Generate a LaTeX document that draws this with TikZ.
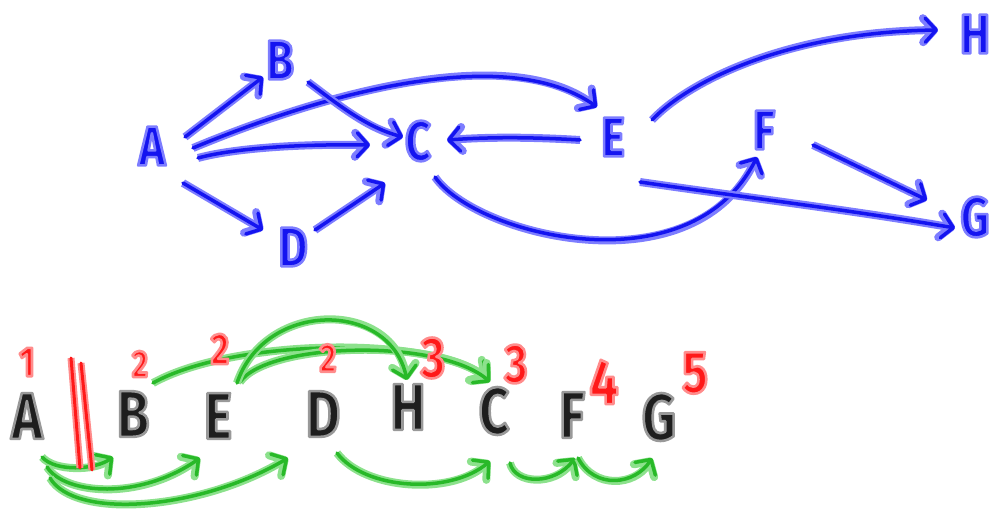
\documentclass[tikz,border=0pt]{standalone}
\usepackage{fontspec}
\setmainfont{Fira Sans}
\newfontfamily\hand{Fira Sans}[FakeStretch=0.8]
\newcommand{\halo}[2]{\special{pdf:literal direct 1 j 1 J 2.6 w #1 RG 2 Tr}#2\special{pdf:literal direct 0 Tr}}
\usetikzlibrary{arrows.meta,calc}
\definecolor{bcore}{RGB}{20,20,240}
\definecolor{bhalo}{RGB}{125,125,255}
\definecolor{gcore}{RGB}{40,185,40}
\definecolor{ghalo}{RGB}{140,225,140}
\definecolor{rcore}{RGB}{255,25,25}
\definecolor{rhalo}{RGB}{255,140,140}
\definecolor{kcore}{RGB}{30,30,30}
\tikzset{
  barb/.tip={Straight Barb[length=11pt,width=24pt,round]},
  bedge/.style={draw=bcore, line width=3.5pt, line cap=round, line join=round, -barb,
    preaction={draw=bhalo, line width=8pt}},
  gedge/.style={draw=gcore, line width=3.5pt, line cap=round, line join=round, -barb,
    preaction={draw=ghalo, line width=8pt}},
  redline/.style={draw=rcore, line width=3pt, line cap=round,
    preaction={draw=rhalo, line width=7pt}},
  topl/.style={font=\hand\bfseries\fontsize{56}{56}\selectfont, inner sep=0pt, text=bcore},
  botl/.style={font=\hand\bfseries\fontsize{66}{66}\selectfont, inner sep=0pt, text=kcore},
  num/.style={font=\hand\bfseries\fontsize{#1}{#1}\selectfont, inner sep=0pt, text=rcore}
}
\newcommand{\tb}[1]{\halo{0.49 0.49 1}{#1}}
\newcommand{\tk}[1]{\halo{0.6 0.6 0.6}{#1}}
\newcommand{\tr}[1]{\halo{1 0.55 0.55}{#1}}
\begin{document}
\begin{tikzpicture}[x=1pt,y=-1pt]
\useasboundingbox (0,0) rectangle (990,511);
% top graph
\node[topl] (tA) at (152,146) {\tb{A}};
\node[topl] (tB) at (280,60)  {\tb{B}};
\node[topl] (tC) at (418,141) {\tb{C}};
\node[topl] (tD) at (293,247) {\tb{D}};
\node[topl] (tE) at (613,137) {\tb{E}};
\node[topl] (tF) at (764,130) {\tb{F}};
\node[topl] (tG) at (975,217) {\tb{G}};
\node[topl] (tH) at (975,34)  {\tb{H}};

\draw[bedge] ($(tA)+(33,-9)$) -- ($(tB)+(-17,17)$);
\draw[bedge] ($(tA)+(41,2)$) .. controls (320,95) and (505,42) .. ($(tE)+(-16,-30)$);
\draw[bedge] ($(tA)+(46,12)$) .. controls (235,148) and (300,144) .. ($(tC)+(-48,4)$);
\draw[bedge] ($(tA)+(31,37)$) -- ($(tD)+(-30,-17)$);
\draw[bedge] ($(tB)+(28,22)$) .. controls (335,102) and (365,127) .. ($(tC)+(-15,-4)$);
\draw[bedge] ($(tD)+(22,-17)$) -- ($(tC)+(-33,42)$);
\draw[bedge] ($(tE)+(-33,3)$) .. controls (530,137) and (490,137) .. ($(tC)+(29,-1)$);
\draw[bedge] ($(tE)+(39,-17)$) .. controls (690,80) and (790,32) .. ($(tH)+(-37,-4)$);
\draw[bedge] ($(tC)+(17,36)$) .. controls (475,235) and (690,290) .. ($(tF)+(-7,27)$);
\draw[bedge] ($(tE)+(27,45)$) .. controls (750,198) and (850,210) .. ($(tG)+(-20,11)$);
\draw[bedge] ($(tF)+(49,15)$) -- ($(tG)+(-48,-17)$);

% bottom order
\node[botl] (bA) at (27,416)  {\tk{A}};
\node[botl] (bB) at (133,414) {\tk{B}};
\node[botl] (bE) at (218,416) {\tk{E}};
\node[botl] (bD) at (323,414) {\tk{D}};
\node[botl] (bH) at (408,407) {\tk{H}};
\node[botl] (bC) at (494,411) {\tk{C}};
\node[botl] (bF) at (572,415) {\tk{F}};
\node[botl] (bG) at (659,417) {\tk{G}};

\draw[gedge] ($(bA)+(15,41)$) .. controls (55,472) and (95,470) .. ($(bB)+(-20,43)$);
\draw[gedge] ($(bA)+(20,51)$) .. controls (65,495) and (140,500) .. ($(bE)+(-18,42)$);
\draw[gedge] ($(bA)+(23,62)$) .. controls (75,520) and (200,510) .. ($(bD)+(-35,44)$);
\draw[gedge] ($(bD)+(14,39)$) .. controls (365,490) and (450,495) .. ($(bC)+(-4,50)$);
\draw[gedge] ($(bC)+(16,52)$) .. controls (515,485) and (555,485) .. ($(bF)+(3,43)$);
\draw[gedge] ($(bF)+(6,43)$) .. controls (595,490) and (635,485) .. ($(bG)+(-7,41)$);
\draw[gedge] ($(bB)+(20,-31)$) .. controls (230,340) and (420,335) .. ($(bC)+(-6,-33)$);
\draw[gedge] ($(bE)+(22,-34)$) .. controls (268,342) and (440,338) .. ($(bC)+(-4,-29)$);
\draw[gedge] ($(bE)+(19,-33)$) .. controls (265,300) and (390,300) .. ($(bH)+(-1,-27)$);

% red separator
\draw[redline] (71,358) -- (80,468);
\draw[redline] (81,363) -- (92,470);

% red numbers
\node[num=42] (n1)  at (27,362)  {\tr{1}};
\node[num=38] (n2a) at (140,364) {\tr{2}};
\node[num=44] (n2b) at (220,349) {\tr{2}};
\node[num=40] (n2c) at (328,358) {\tr{2}};
\node[num=58] (n3a) at (433,358) {\tr{3}};
\node[num=55] (n3b) at (516,364) {\tr{3}};
\node[num=64] (n4)  at (604,382) {\tr{4}};
\node[num=60] (n5)  at (695,373) {\tr{5}};
\end{tikzpicture}
\end{document}
